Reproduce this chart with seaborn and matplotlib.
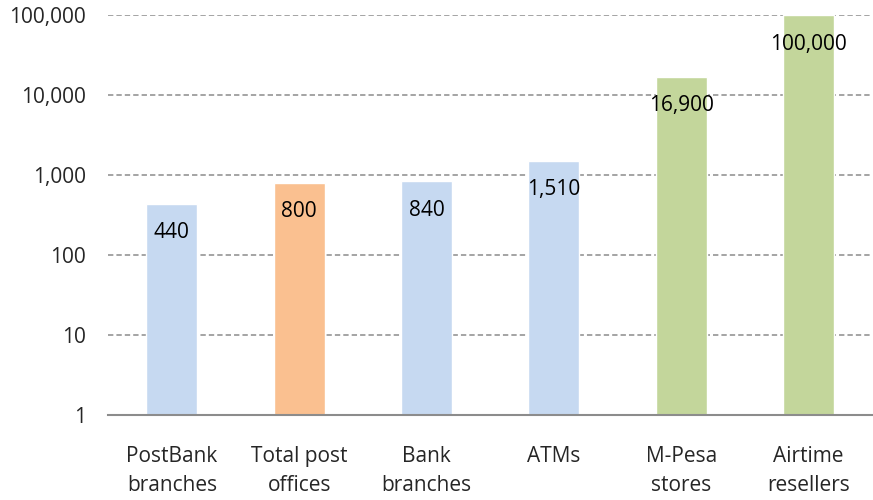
import matplotlib
matplotlib.use("Agg")
import matplotlib.pyplot as plt
import matplotlib.ticker as mticker
import seaborn as sns
import pandas as pd

categories = ["PostBank\nbranches", "Total post\noffices", "Bank\nbranches",
              "ATMs", "M-Pesa\nstores", "Airtime\nresellers"]
values = [440, 800, 840, 1510, 16900, 100000]
labels = ["440", "800", "840", "1,510", "16,900", "100,000"]
groups = ["bank", "post", "bank", "bank", "mobile", "mobile"]
group_colors = {"bank": "#C6D9F1", "post": "#FAC090", "mobile": "#C3D69B"}

df = pd.DataFrame({"cat": categories, "val": values, "grp": groups})
bar_colors = [group_colors[g] for g in groups]

sns.set_style("white")
plt.rcParams["font.family"] = ["Open Sans", "DejaVu Sans"]

fig = plt.figure(figsize=(8.73, 5), dpi=100)
ax = fig.add_axes([0.124, 0.17, 0.875, 0.80])

sns.barplot(data=df, x="cat", y="val", hue="cat", palette=bar_colors,
            width=0.4, legend=False, saturation=1, ax=ax)
ax.set_yscale("log")

ax.set_ylim(1, 100000)
ax.set_xlim(-0.5, len(categories) - 0.5)
ax.yaxis.set_major_locator(mticker.LogLocator(base=10, numticks=10))
ax.yaxis.set_minor_locator(mticker.NullLocator())
ax.yaxis.set_major_formatter(mticker.FuncFormatter(lambda v, p: f"{v:,.0f}"))
ax.grid(axis="y", color="#8c8c8c", linestyle=(0, (3.5, 2)), linewidth=1.1)
ax.set_axisbelow(True)

for s in ["left", "right", "top"]:
    ax.spines[s].set_visible(False)
ax.spines["bottom"].set_color("#8c8c8c")
ax.spines["bottom"].set_linewidth(1.5)

ax.tick_params(axis="both", length=0, labelsize=15)
ax.tick_params(axis="y", pad=16)
ax.tick_params(axis="x", pad=22)
for t in ax.get_xticklabels():
    t.set_linespacing(1.55)
ax.set_xlabel("")
ax.set_ylabel("")

for i, (v, lab) in enumerate(zip(values, labels)):
    ax.annotate(lab, (i, v), xytext=(0, -21), textcoords="offset points",
                ha="center", va="center", fontsize=15, color="black")

fig.savefig("out.png", dpi=100)
